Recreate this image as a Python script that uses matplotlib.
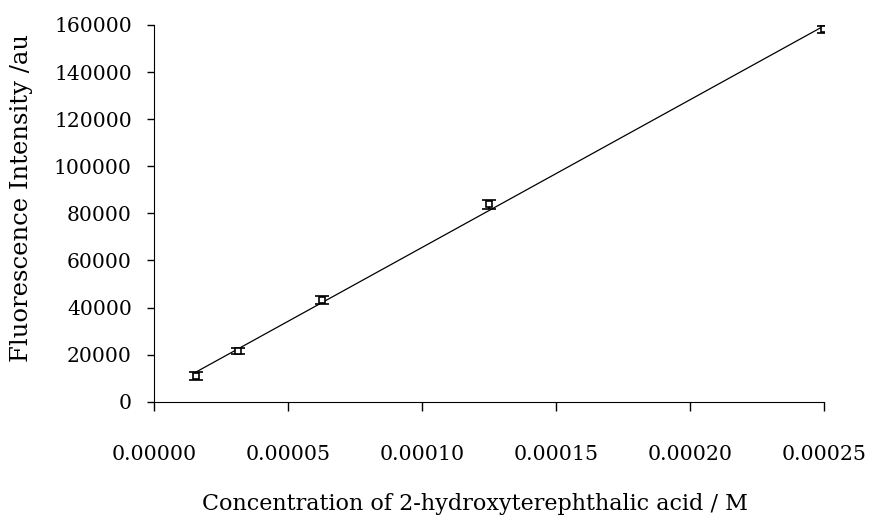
import numpy as np
import matplotlib
matplotlib.use("Agg")
from matplotlib import pyplot as plt
from matplotlib.ticker import FormatStrFormatter

# concentration (M) and mean fluorescence (au) with error
conc = [1.5625e-5, 3.125e-5, 6.25e-5, 1.25e-4, 2.5e-4]
intensity = [11000, 21500, 43200, 83800, 158200]
err = [1800, 1200, 1700, 1900, 1500]

x_ticks = [0.0, 0.00005, 0.00010, 0.00015, 0.00020, 0.00025]
y_ticks = [0, 20000, 40000, 60000, 80000, 100000, 120000, 140000, 160000]

plt.rcParams['font.family'] = ['DejaVu Serif']

fig = plt.figure(figsize=(8.73, 5.19), dpi=100)
ax = fig.add_axes([0.1764, 0.226, 0.944 - 0.1764, 0.952 - 0.226])

# linear trend line through the data
k, b = np.polyfit(conc, intensity, 1)
xs = np.array([conc[0], conc[-1]])
ax.plot(xs, k * xs + b, color='black', lw=0.9)

ax.errorbar(conc, intensity, yerr=err, fmt='s', ms=4, mfc='white', mec='black',
            mew=1.2, ecolor='black', elinewidth=1.6, capsize=5, capthick=2)

ax.set_xlim(0, 0.00025)
ax.set_ylim(0, 160000)
ax.set_xticks(x_ticks)
ax.set_yticks(y_ticks)
ax.xaxis.set_major_formatter(FormatStrFormatter('%.5f'))
ax.spines['top'].set_visible(False)
ax.spines['right'].set_visible(False)
ax.tick_params(axis='x', direction='out', length=6.5, width=1, pad=24.5, labelsize=14.8)
ax.tick_params(axis='y', direction='out', length=5, width=1, pad=11, labelsize=14.6)
ax.set_xlabel('Concentration of 2-hydroxyterephthalic acid / M', fontsize=16)
ax.set_ylabel('Fluorescence Intensity /au', fontsize=17.5)
ax.xaxis.set_label_coords(0.479, -0.243)
ax.yaxis.set_label_coords(-0.18, 0.54)

fig.savefig('out.png', dpi=100)
